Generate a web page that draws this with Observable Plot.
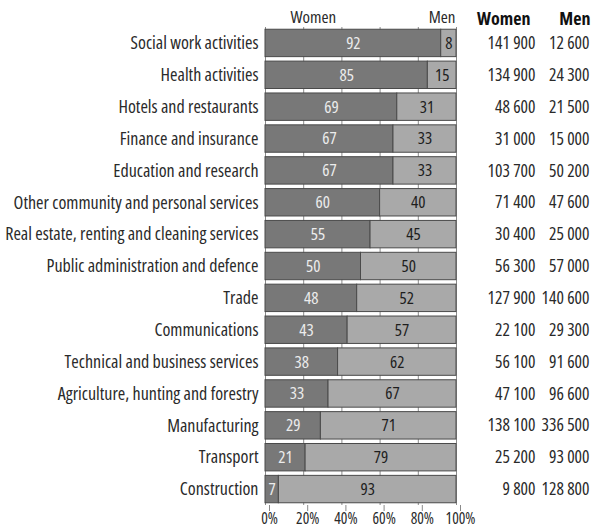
<!DOCTYPE html>
<html>
<head>
<meta charset="utf-8">
<script src="https://cdn.jsdelivr.net/npm/d3@7"></script>
<script src="https://cdn.jsdelivr.net/npm/@observablehq/plot@0.6"></script>
<style>
  html, body { margin: 0; padding: 0; background: #fff; }
  #chart svg { display: block; font-stretch: 75%; }
  #chart svg text { font-stretch: 75%; }
</style>
</head>
<body>
<div id="chart"></div>
<script>
const categories = [
  "Social work activities",
  "Health activities",
  "Hotels and restaurants",
  "Finance and insurance",
  "Education and research",
  "Other community and personal services",
  "Real estate, renting and cleaning services",
  "Public administration and defence",
  "Trade",
  "Communications",
  "Technical and business services",
  "Agriculture, hunting and forestry",
  "Manufacturing",
  "Transport",
  "Construction"
];
const womenPct = [92, 85, 69, 67, 67, 60, 55, 50, 48, 43, 38, 33, 29, 21, 7];
const menPct   = [8, 15, 31, 33, 33, 40, 45, 50, 52, 57, 62, 67, 71, 79, 93];
const womenCount = [141900, 134900, 48600, 31000, 103700, 71400, 30400, 56300, 127900, 22100, 56100, 47100, 138100, 25200, 9800];
const menCount   = [12600, 24300, 21500, 15000, 50200, 47600, 25000, 57000, 140600, 29300, 91600, 96600, 336500, 93000, 128800];
const xTicks = [0, 20, 40, 60, 80, 100];

const rows = categories.map((c, i) => ({
  cat: c, women: womenPct[i], men: menPct[i], wc: womenCount[i], mc: menCount[i]
}));
const fmt = n => d3.format(",")(n).replace(/,/g, " ");

const font = "'Open Sans', 'DejaVu Sans Condensed', sans-serif";
const textColor = "#2a2a2a";

const chart = Plot.plot({
  width: 593,
  height: 530,
  marginLeft: 265,
  marginRight: 137,
  marginTop: 27,
  marginBottom: 25,
  style: { fontFamily: font, fontSize: "14px", color: textColor, background: "#fff", overflow: "visible" },
  x: { domain: [0, 100], axis: null },
  y: { domain: categories, paddingInner: 0.14, paddingOuter: 0.07, round: false, axis: null },
  marks: [
    Plot.ruleX(xTicks, { stroke: "#8a8a8a", strokeWidth: 1 }),
    Plot.barX(rows, { y: "cat", x1: 0, x2: "women", fill: "#787878", stroke: "#4a4a4a", strokeWidth: 1 }),
    Plot.barX(rows, { y: "cat", x1: "women", x2: d => d.women + d.men, fill: "#a9a9a9", stroke: "#4a4a4a", strokeWidth: 1 }),
    Plot.text(rows, { y: "cat", x: d => d.women / 2, text: d => String(d.women), fill: "#ececec", fontSize: 17 }),
    Plot.text(rows, { y: "cat", x: d => d.women + d.men / 2, text: d => String(d.men), fill: "#1e1e1e", fontSize: 17 }),
    // category labels
    Plot.text(rows, { y: "cat", x: 0, text: "cat", textAnchor: "end", dx: -7, fill: textColor, fontSize: 18 }),
    // table values
    Plot.text(rows, { y: "cat", x: 100, text: d => fmt(d.wc), textAnchor: "end", dx: 79, fill: textColor, fontSize: 17.5 }),
    Plot.text(rows, { y: "cat", x: 100, text: d => fmt(d.mc), textAnchor: "end", dx: 133, fill: textColor, fontSize: 17.5 }),
    // top labels
    Plot.text(["Women"], { x: 0, frameAnchor: "top", lineAnchor: "middle", text: d => d, textAnchor: "start", dx: 25, dy: -10, fill: textColor, fontSize: 17 }),
    Plot.text(["Men"], { x: 100, frameAnchor: "top", lineAnchor: "middle", text: d => d, textAnchor: "end", dx: -1, dy: -10, fill: textColor, fontSize: 17 }),
    Plot.text(["Women"], { x: 100, frameAnchor: "top", lineAnchor: "middle", text: d => d, textAnchor: "end", dx: 74, dy: -8, fill: "#111", fontSize: 18, fontWeight: "bold" }),
    Plot.text(["Men"], { x: 100, frameAnchor: "top", lineAnchor: "middle", text: d => d, textAnchor: "end", dx: 134, dy: -8, fill: "#111", fontSize: 18, fontWeight: "bold" }),
    // bottom axis
    Plot.axisX({ ticks: xTicks, tickFormat: d => d + "%", tickSize: 6, tickPadding: 1, label: null, stroke: "#8a8a8a", fill: textColor, fontSize: 15.5, dx: 4 })
  ]
});
document.getElementById("chart").appendChild(chart);
</script>
</body>
</html>
